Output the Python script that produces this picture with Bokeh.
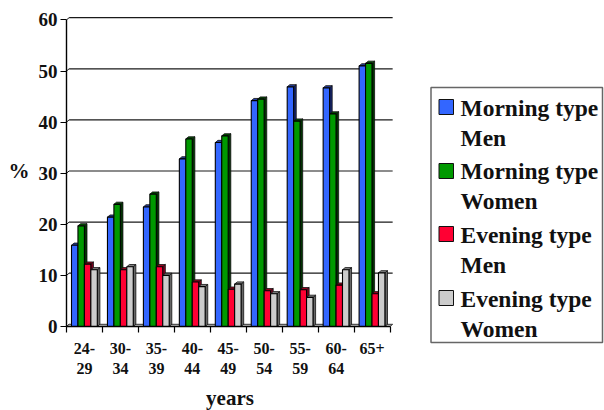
from bokeh.plotting import figure
from bokeh.layouts import row, column
from bokeh.models import FixedTicker, Range1d
from bokeh.core.properties import value
from bokeh.embed import file_html
from bokeh.resources import INLINE

age_groups = ["24-\n29", "30-\n34", "35-\n39", "40-\n44", "45-\n49", "50-\n54", "55-\n59", "60-\n64", "65+"]
morning_men = [15.9, 21.4, 23.4, 32.8, 36.0, 44.2, 46.9, 46.7, 51.0]
morning_women = [19.7, 23.9, 25.9, 36.7, 37.3, 44.5, 40.2, 41.6, 51.5]
evening_men = [12.2, 11.1, 11.7, 8.7, 7.3, 7.0, 7.2, 8.1, 6.4]
evening_women = [11.1, 11.7, 10.0, 7.8, 8.3, 6.4, 5.7, 11.1, 10.5]
y_ticks = [0, 10, 20, 30, 40, 50, 60]
legend_lines = [("Morning type", "Men"), ("Morning type", "Women"), ("Evening type", "Men"), ("Evening type", "Women")]

series = [morning_men, morning_women, evening_men, evening_women]
fills = ["#3366ff", "#009900", "#ff0033", "#cccccc"]
sides = ["#14246e", "#003300", "#800020", "#666666"]
tops = ["#243c99", "#004d00", "#99001f", "#808080"]

SERIF = "Liberation Serif"
CAT_PX, UNIT_PX = 35.95, 5.11
FW, FH = 327, 311
LEFT, TOP = 66, 15
W, H = 604, 410
MAIN_W = LEFT + FW
n = len(age_groups)

p = figure(width=MAIN_W, height=H, output_backend="svg", toolbar_location=None,
           frame_width=FW, frame_height=FH,
           min_border_left=LEFT, min_border_top=TOP,
           min_border_right=0, min_border_bottom=H - TOP - FH,
           x_range=Range1d(0, FW / CAT_PX), y_range=Range1d(0, FH / UNIT_PX),
           outline_line_color=None, background_fill_color="white")
p.grid.visible = False

DX, DY = 2.6 / CAT_PX, 2.2 / UNIT_PX

grid_vals = y_ticks[1:]
p.segment(x0=[DX] * len(grid_vals), x1=[n + DX] * len(grid_vals), y0=[v + DY for v in grid_vals],
          y1=[v + DY for v in grid_vals], line_color="#1a1a1a", line_width=1.2)
p.segment(x0=[0] * len(y_ticks), x1=[DX] * len(y_ticks), y0=y_ticks, y1=[v + DY for v in y_ticks],
          line_color="#1a1a1a", line_width=1)
p.patch(x=[0, DX, n + DX, n], y=[0, DY, DY, 0], fill_color="#c8c8c8", line_color="#333333", line_width=1)

BAR = 6.45 / CAT_PX
START = 5.0 / CAT_PX
for s, vals in enumerate(series):
    lefts = [c + START + s * BAR for c in range(n)]
    rights = [l + BAR for l in lefts]
    p.patches(xs=[[r, r + DX, r + DX, r] for r in rights],
              ys=[[0, DY, v + DY, v] for v in vals],
              fill_color=sides[s], line_color="#111111", line_width=0.8)
    p.patches(xs=[[l, l + DX, r + DX, r] for l, r in zip(lefts, rights)],
              ys=[[v, v + DY, v + DY, v] for v in vals],
              fill_color=tops[s], line_color="#111111", line_width=0.8)
    p.quad(left=lefts, right=rights, bottom=[0] * n, top=vals,
           fill_color=fills[s], line_color="#000000", line_width=1.1)

centres = [c + 0.5 for c in range(n)]
xa = p.xaxis[0]
xa.ticker = FixedTicker(ticks=centres, minor_ticks=list(range(n + 1)))
xa.major_label_overrides = {c: t for c, t in zip(centres, age_groups)}
xa.bounds = (0, n)
xa.major_tick_line_color = None
xa.major_tick_in = 0
xa.major_tick_out = 0
xa.minor_tick_in = 0
xa.minor_tick_out = 6
xa.minor_tick_line_color = "black"
xa.minor_tick_line_width = 1.2
xa.axis_line_color = "black"
xa.axis_line_width = 1.4
xa.major_label_standoff = 7
xa.major_label_text_font = SERIF
xa.major_label_text_font_style = "bold"
xa.major_label_text_font_size = "16px"
xa.major_label_text_color = "#111111"
xa.axis_label = "years"
xa.axis_label_text_font = SERIF
xa.axis_label_text_font_style = "bold"
xa.axis_label_text_font_size = "21px"
xa.axis_label_text_color = "#111111"
xa.axis_label_standoff = 6

ya = p.yaxis[0]
ya.ticker = FixedTicker(ticks=y_ticks)
ya.bounds = (0, 60)
ya.major_tick_in = 0
ya.major_tick_out = 6
ya.major_tick_line_color = "black"
ya.major_tick_line_width = 1.2
ya.minor_tick_line_color = None
ya.axis_line_color = "black"
ya.axis_line_width = 1.4
ya.major_label_standoff = 3
ya.major_label_text_font = SERIF
ya.major_label_text_font_style = "bold"
ya.major_label_text_font_size = "19px"
ya.major_label_text_color = "#111111"
ya.axis_label = "%"
ya.axis_label_orientation = "horizontal"
ya.axis_label_text_font = SERIF
ya.axis_label_text_font_style = "bold"
ya.axis_label_text_font_size = "21px"
ya.axis_label_text_color = "#111111"
ya.axis_label_standoff = 6

# legend panel: its ranges are picture pixels
lg = figure(width=W - MAIN_W, height=H, output_backend="svg", toolbar_location=None,
            min_border=0, x_range=Range1d(MAIN_W, W), y_range=Range1d(H, 0),
            x_axis_location=None, y_axis_location=None, outline_line_color=None)
lg.grid.visible = False
lg.quad(left=[430.5], right=[602], top=[87], bottom=[342], fill_color="white",
        line_color="#666666", line_width=1.5)
swatch_y = [99, 163, 226, 290]
line1_y = [107, 170, 234, 298]
line2_y = [137, 200, 264, 328]
lg.quad(left=[438.5] * 4, right=[453] * 4, top=swatch_y, bottom=[v + 15 for v in swatch_y],
        fill_color=fills, line_color="#111111", line_width=1)
lg.text(x=[460] * 8, y=line1_y + line2_y, text=[a for a, _ in legend_lines] + [b for _, b in legend_lines],
        text_font=value(SERIF), text_font_style="bold", text_font_size="23.5px",
        text_baseline="middle", text_align="left", text_color="#111111")

open("out.html", "w").write(file_html(row(p, column(lg)), INLINE))
